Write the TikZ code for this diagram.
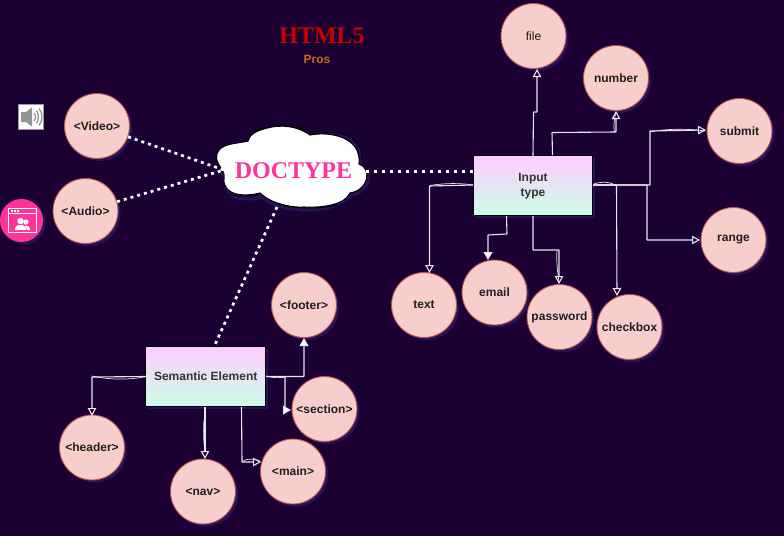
\documentclass[tikz,border=0pt]{standalone}
\usepackage{fontspec}
\setmainfont{Liberation Sans}
\newfontfamily\serifb{Liberation Serif}[Ligatures=TeX]
\usetikzlibrary{arrows.meta,shadows,calc}
\definecolor{bgc}{HTML}{1A0033}
\definecolor{pinkc}{HTML}{F8CECC}
\definecolor{pinkline}{HTML}{B85450}
\definecolor{hotc}{HTML}{FF3399}
\definecolor{linec}{HTML}{E8E6F0}
\definecolor{boxtop}{HTML}{FFCCFF}
\definecolor{boxbot}{HTML}{CCFFE6}
\definecolor{shadowc}{HTML}{2A1A5E}
\definecolor{prosc}{HTML}{CC6C10}
\tikzset{
  circ/.style={circle,draw=pinkline,fill=pinkc,line width=.9pt,minimum size=65pt,inner sep=0pt,font=\bfseries\fontsize{12}{14}\selectfont,text=black!88,drop shadow={shadow xshift=2.5pt,shadow yshift=-2.5pt,fill=shadowc,opacity=.8}},
  gbox/.style={rectangle,draw=black,line width=1pt,minimum width=119.5pt,minimum height=59.5pt,top color=boxtop,bottom color=boxbot,inner sep=0pt,align=center,font=\bfseries\fontsize{12}{15}\selectfont,text=black!80,drop shadow={shadow xshift=2.5pt,shadow yshift=-2.5pt,fill=shadowc,opacity=.8}},
  conn/.style={draw=linec,line width=1.1pt,-{Triangle[open,length=8pt,width=8.5pt]},rounded corners=.5pt},
  fconn/.style={conn,-{Triangle[length=8pt,width=9pt,fill=white]}},
  skt/.style={draw=linec,line width=.7pt},
  dots/.style={draw=white,line width=2.7pt,dash pattern=on 3pt off 4pt},
  dotb/.style={draw=white,line width=3pt,dash pattern=on 3pt off 5pt},
}
\begin{document}
\begin{tikzpicture}[x=1pt,y=-1pt]
\useasboundingbox[fill=bgc] (0,0) rectangle (784,536);
\coordinate (cl) at (224,170);
\coordinate (cb) at (277,207);
\coordinate (cr) at (366,171);
\coordinate (inl) at (473,171);
\coordinate (semt) at (214,347);

\node[circ,font=\fontsize{12}{14}\selectfont,text=black!90] (file) at (533.5,36) {file};
\node[circ] (number) at (616,78) {number};
\node[circ] (submit) at (739.5,131) {submit};
\node[circ] (range) at (733.5,240) {range};
\node[circ] (checkbox) at (629.5,327) {checkbox};
\node[circ] (password) at (559.5,317) {password};
\node[circ] (email) at (494.5,292.5) {email};
\node[circ] (text) at (424,305) {text};
\node[circ] (footer) at (304,305) {<footer>};
\node[circ] (section) at (324.5,409) {<section>};
\node[circ] (main) at (293,471.5) {<main>};
\node[circ] (nav) at (203,491.5) {<nav>};
\node[circ] (header) at (92,447.5) {<header>};
\node[circ] (video) at (97,126) {<Video>};
\node[circ] (audio) at (85.5,211) {<Audio>};

\node[gbox] (input) at (533,185.7) {Input\\type};
\node[gbox] (sem) at (205.7,376.4) {Semantic Element};

% cloud shadow and sketch lines
\path[fill=shadowc,opacity=.7]
 (219,150) .. controls (226,140) and (238,143) .. (249,141)
 .. controls (252,130) and (296,118) .. (311,136)
 .. controls (330,128) and (368,135) .. (362,166)
 .. controls (376,170) and (372,194) .. (350,197)
 .. controls (340,214) and (285,218) .. (262,199)
 .. controls (245,203) and (224,200) .. (224,184)
 .. controls (222,176) and (214,160) .. (219,150) -- cycle;
\path[fill=white,draw=black,line width=1.1pt]
 (217,154) .. controls (220,143) and (236,144) .. (248,141)
 .. controls (250,132) and (262,129) .. (272,127)
 .. controls (288,124) and (302,129) .. (310,135)
 .. controls (330,131) and (362,137) .. (359,164)
 .. controls (372,168) and (369,190) .. (350,193)
 .. controls (345,205) and (322,208) .. (304,207)
 .. controls (290,208) and (270,203) .. (260,193)
 .. controls (245,197) and (222,196) .. (224,178)
 .. controls (226,170) and (214,164) .. (217,154) -- cycle;
\draw[black,line width=.7pt] (256,131) .. controls (272,123) and (296,125) .. (312,132);
\draw[black,line width=.7pt] (340,133) .. controls (354,135) and (364,148) .. (361,160);
\draw[black,line width=.7pt] (228,194) .. controls (238,197) and (250,197) .. (259,195);
\draw[black,line width=.7pt] (278,203) .. controls (296,210) and (320,209) .. (338,205);
\node[font=\serifb\bfseries\fontsize{24}{28}\selectfont,text=hotc] (doctype) at (293.5,171) {DOCTYPE};

% dotted
\draw[dots] (video) -- (cl);
\draw[dots] (audio) -- (cl);
\draw[dots] (cb) -- (semt);
\draw[dotb] (cr) -- (inl);

% input connectors
\draw[conn] (533,156) -- (533.5,112) -- (537,112) -- (537,69);
\draw[conn] (552.5,155) -- (552,132.5) -- (616,132) -- (616,111);
\draw[skt] (614.5,132) .. controls (613,124) and (615,116) .. (616,112);
\draw[conn] (593,185) -- (650,185) -- (650,131) -- (706,130);
\draw[skt] (650,132) .. controls (670,128) and (690,129) .. (705,131);
\draw[conn] (593,185) -- (647,185) -- (647,240) -- (700,240);
\draw[conn] (593,185) -- (616.5,185) -- (617,296);
\draw[skt] (594,184) .. controls (602,181) and (612,182) .. (616,186);
\draw[conn] (473,185) -- (429.5,186) -- (429.5,273);
\draw[skt] (430,185.5) .. controls (445,183) and (460,183) .. (473,185);
\draw[fconn] (506.5,216) -- (507,234) -- (488,235) -- (488,260);
\draw[conn] (533,216) -- (533,250) -- (559,250) -- (559,284);
\draw[skt] (557,250) .. controls (556,262) and (558,275) .. (559,282);
% semantic connectors
\draw[conn] (146,376.5) -- (92,377) -- (92,416);
\draw[skt] (146,376.5) .. controls (130,380) and (110,380) .. (92,376);
\draw[conn] (205,407) -- (205,459);
\draw[skt] (204,420) .. controls (203,435) and (204,445) .. (205,452);
\draw[conn] (241.5,407) -- (242,462) -- (261,462);
\draw[skt] (243,461) .. controls (248,458) and (255,459) .. (260,461);
\draw[fconn] (266,376.5) -- (304,376.5) -- (304,338);
\draw[skt] (266,376) .. controls (272,378) and (280,378) .. (286,377);
\draw[fconn] (285,377) -- (285,410) -- (291,410);

% title
\node[font=\serifb\bfseries\fontsize{24}{28}\selectfont,text=red!78!black] (title) at (322,36) {HTML5};
\node[font=\bfseries\fontsize{12}{14}\selectfont,text=prosc] (pros) at (317,59) {Pros};

% speaker icon
\node[draw=black!40,fill=white,line width=1.5pt,minimum size=25pt,inner sep=0pt] (spk) at (31,117) {};
\fill[black!42] (21,112) -- (26,112) -- (32,107.5) -- (32,126.5) -- (26,122) -- (21,122) -- cycle;
\draw[black!42,line width=1.3pt] (34,113) .. controls (36,115) and (36,119) .. (34,121);
\draw[black!42,line width=1.3pt] (36.5,110.5) .. controls (39,114) and (39,120) .. (36.5,123.5);
\draw[black!42,line width=1.3pt] (39,108.5) .. controls (43,113) and (43,121) .. (39,125.5);
% app icon
\node[circle,fill=hotc,minimum size=43pt,inner sep=0pt,drop shadow={shadow xshift=2.5pt,shadow yshift=-2.5pt,fill=shadowc,opacity=.8}] (app) at (21.5,220.5) {};
\draw[white,line width=1pt] (8.5,208.5) rectangle (36.5,232);
\draw[white,line width=1pt] (8.5,213.5) -- (36.5,213.5);
\foreach \dx in {11,14,17} \fill[white] (\dx,209.7) rectangle ++(1.8,1.8);
\fill[white] (20.5,221) circle (3.2);
\fill[white] (26,222) circle (2.6);
\fill[white] (15,230) .. controls (15,226) and (17,225) .. (20.5,225) .. controls (24,225) and (26,226) .. (26,230) -- cycle;
\fill[white] (25,225.5) .. controls (28,225.5) and (30,226.5) .. (30,230) -- (27,230) -- cycle;
\end{tikzpicture}
\end{document}
